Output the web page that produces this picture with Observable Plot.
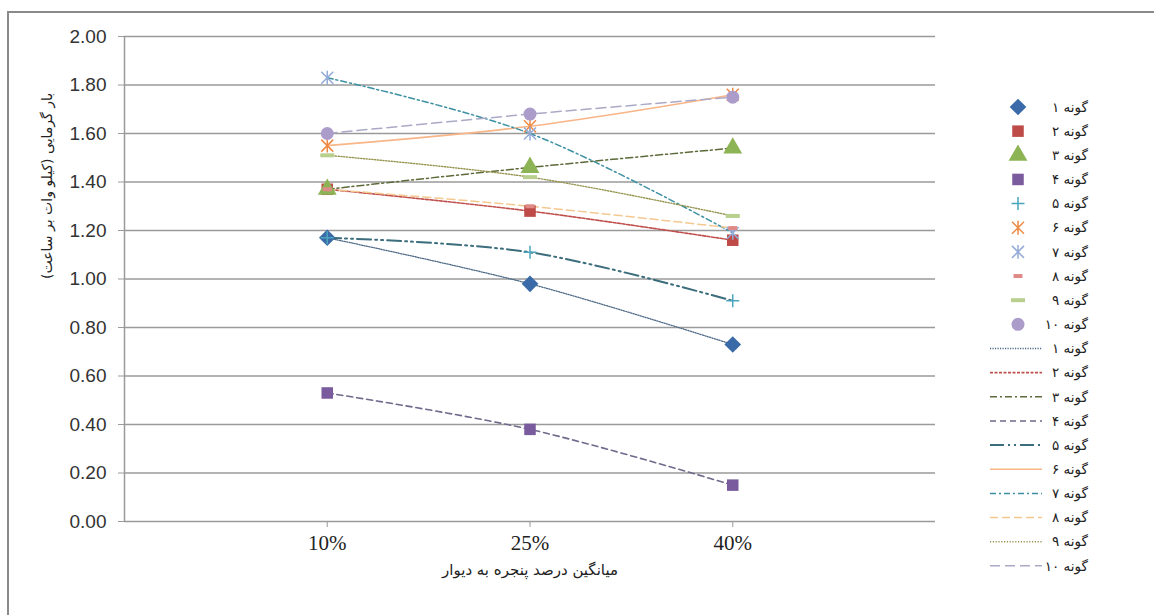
<!DOCTYPE html>
<html><head><meta charset="utf-8">
<script src="https://cdn.jsdelivr.net/npm/d3@7"></script>
<script src="https://cdn.jsdelivr.net/npm/@observablehq/plot@0.6"></script>
<style>
html,body{margin:0;padding:0;background:#fff;}
#wrap{position:relative;width:1154px;height:615px;overflow:hidden;}
#frame{position:absolute;left:7px;top:11px;width:1200px;height:700px;border:2px solid #8a8a8a;box-sizing:border-box;}
#chart{position:absolute;left:0;top:0;}
#legend{position:absolute;left:0;top:0;}
</style></head><body>
<div id="wrap"><div id="frame"></div><div id="chart"></div><svg id="legend" width="1154" height="615"></svg></div>
<script>
// ---- data ----
const categories = ["10%", "25%", "40%"];
const seriesNames = ["گونه ۱","گونه ۲","گونه ۳","گونه ۴","گونه ۵","گونه ۶","گونه ۷","گونه ۸","گونه ۹","گونه ۱۰"];
const s1 = [1.17, 0.98, 0.73];
const s2 = [1.37, 1.28, 1.16];
const s3 = [1.37, 1.46, 1.54];
const s4 = [0.53, 0.38, 0.15];
const s5 = [1.17, 1.11, 0.91];
const s6 = [1.55, 1.63, 1.76];
const s7 = [1.83, 1.60, 1.19];
const s8 = [1.37, 1.30, 1.21];
const s9 = [1.51, 1.42, 1.26];
const s10 = [1.60, 1.68, 1.75];
const yTicks = [0, 0.2, 0.4, 0.6, 0.8, 1.0, 1.2, 1.4, 1.6, 1.8, 2.0];
const xTitle = "میانگین درصد پنجره به دیوار";
const yTitle = "بار گرمایی (کیلو وات بر ساعت)";

const seriesValues = [s1, s2, s3, s4, s5, s6, s7, s8, s9, s10];
const table = seriesValues.flatMap((vals, si) =>
  vals.map((v, ci) => ({series: seriesNames[si], pos: ci + 1, value: v})));

// ---- styles ----
const dash = (w, h) => ({draw(ctx) { ctx.rect(-w / 2, -h / 2, w, h); }});
const star = s => ({draw(ctx) {
  ctx.moveTo(-s, -s); ctx.lineTo(s, s);
  ctx.moveTo(-s, s); ctx.lineTo(s, -s);
  ctx.moveTo(0, -s * 1.15); ctx.lineTo(0, s * 1.15);
}});
const plusS = s => ({draw(ctx) {
  ctx.moveTo(-s, 0); ctx.lineTo(s, 0);
  ctx.moveTo(0, -s); ctx.lineTo(0, s);
}});
const markerStyle = [
  {symbol: "diamond2", fill: "#3a6ba8", stroke: "none", r: 7.5},
  {symbol: "square", fill: "#be4b48", stroke: "none", r: 6.5},
  {symbol: "triangle", fill: "#8db454", stroke: "none", r: 7},
  {symbol: "square", fill: "#7a5c9e", stroke: "none", r: 6.5},
  {symbol: plusS(6.5), fill: "none", stroke: "#4aa6bd", r: 5, sw: 1.5},
  {symbol: star(6), fill: "none", stroke: "#ee8a45", r: 5, sw: 1.5},
  {symbol: star(6), fill: "none", stroke: "#94abd8", r: 5, sw: 1.5},
  {symbol: dash(9, 4), fill: "#e08a88", stroke: "none", r: 5},
  {symbol: dash(14, 4), fill: "#b8cf8e", stroke: "none", r: 5},
  {symbol: "circle", fill: "#ab9cc9", stroke: "none", r: 6.5}
];
const lineStyle = [
  {stroke: "#4d6a86", dash: "1.2,1.3", w: 1.3},
  {stroke: "#c0504d", dash: "3,1.5", w: 1.6},
  {stroke: "#5d6a3a", dash: "7,3,2,3", w: 1.5},
  {stroke: "#6e6a8c", dash: "6,4", w: 1.6},
  {stroke: "#3b6d7c", dash: "14,4,2,4,2,4", w: 2},
  {stroke: "#f8b587", dash: null, w: 1.6},
  {stroke: "#3d91a2", dash: "6,3,2,3", w: 1.5},
  {stroke: "#f4c891", dash: "8,4", w: 1.5},
  {stroke: "#96944e", dash: "1.2,1.6", w: 1.4},
  {stroke: "#aaa9c6", dash: "10,5", w: 1.5}
];

const lineMarks = seriesNames.map((name, i) =>
  Plot.line(table.filter(d => d.series === name), {
    x: "pos", y: "value", curve: "catmull-rom",
    stroke: lineStyle[i].stroke, strokeWidth: lineStyle[i].w,
    strokeDasharray: lineStyle[i].dash
  }));
const dotMarks = seriesNames.map((name, i) =>
  Plot.dot(table.filter(d => d.series === name), {
    x: "pos", y: "value", symbol: markerStyle[i].symbol, r: markerStyle[i].r,
    fill: markerStyle[i].fill, stroke: markerStyle[i].stroke,
    strokeWidth: markerStyle[i].sw || 1
  }));

const grey = "#9a9a9a";
const chart = Plot.plot({
  width: 1154, height: 615,
  marginLeft: 124, marginRight: 219, marginTop: 36, marginBottom: 94,
  x: {domain: [0, 4], axis: null},
  y: {domain: [0, 2], axis: null},
  style: {background: "transparent", overflow: "visible"},
  marks: [
    Plot.gridY(yTicks, {stroke: grey, strokeOpacity: 1, strokeWidth: 1.5}),
    Plot.ruleX([0], {stroke: grey, strokeWidth: 1.5}),
    Plot.axisY(yTicks, {tickSize: 6, tickPadding: 12, tickFormat: d3.format(".2f"),
      fontSize: 19, fontFamily: "Liberation Sans, Arial, sans-serif", stroke: grey, fill: "#333", label: null}),
    Plot.axisX([1, 2, 3], {tickSize: 6, tickPadding: 8, tickFormat: d => categories[d - 1],
      fontSize: 21, fontFamily: "Liberation Serif, Times New Roman, serif", stroke: grey, fill: "#222", label: null}),
    Plot.text([yTitle], {frameAnchor: "left", dx: -77, rotate: -90, fontSize: 14,
      fontFamily: "DejaVu Sans", fill: "#222"}),
    Plot.text([xTitle], {frameAnchor: "bottom", dy: 53, fontSize: 15,
      fontFamily: "DejaVu Sans", fill: "#222"}),
    ...lineMarks,
    ...dotMarks
  ]
});
document.getElementById("chart").appendChild(chart);

// ---- legend ----
const lg = d3.select("#legend");
const rowY = i => 107 + i * 24.15;
seriesNames.forEach((name, i) => {
  const ms = markerStyle[i];
  const g = lg.append("g").attr("transform", `translate(1018,${rowY(i)})`);
  const sym = typeof ms.symbol === "string"
    ? {diamond2: d3.symbolDiamond2, square: d3.symbolSquare, triangle: d3.symbolTriangle,
       circle: d3.symbolCircle}[ms.symbol]
    : ms.symbol;
  g.append("path").attr("d", d3.symbol(sym, Math.PI * ms.r * ms.r)())
    .attr("fill", ms.fill).attr("stroke", ms.stroke).attr("stroke-width", ms.sw || 1);
});
seriesNames.forEach((name, i) => {
  const ls = lineStyle[i];
  lg.append("line").attr("x1", 990).attr("x2", 1042)
    .attr("y1", rowY(i + 10)).attr("y2", rowY(i + 10))
    .attr("stroke", ls.stroke).attr("stroke-width", ls.w)
    .attr("stroke-dasharray", ls.dash);
});
seriesNames.concat(seriesNames).forEach((name, i) => {
  lg.append("text").attr("x", 1088).attr("y", rowY(i)).attr("dy", "0.35em")
    .attr("direction", "rtl").attr("text-anchor", "start")
    .attr("font-family", "DejaVu Sans").attr("font-size", 13.5).attr("fill", "#222")
    .text(name);
});
</script>
</body></html>
